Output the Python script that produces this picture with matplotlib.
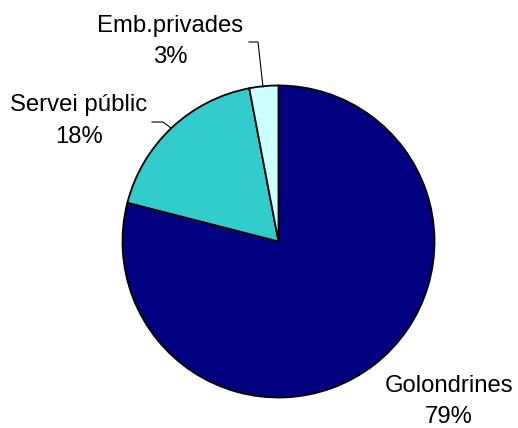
import matplotlib
matplotlib.use("Agg")
from matplotlib import pyplot as plt

labels = ["Golondrines", "Servei públic", "Emb.privades"]
shares = [79, 18, 3]
colors = ["#000080", "#33CCCC", "#CCFFFF"]

W, H = 518, 428
fig = plt.figure(figsize=(W / 100, H / 100), dpi=100)
ax = fig.add_axes([0, 0, 1, 1])

# pie in pixel coords (y axis goes down, so flip the direction)
wedges, _ = ax.pie(shares, colors=colors, startangle=-90, counterclock=True,
                   center=(278.5, 241.5), radius=156,
                   wedgeprops=dict(edgecolor="black", linewidth=1.3),
                   frame=True)
ax.set_xlim(0, W)
ax.set_ylim(H, 0)
ax.set_aspect("equal")
ax.axis("off")

fs = 17.2
font = "Liberation Sans"
# x centre, baseline of name, baseline of percentage
text_pos = [(449, 392, 423), (79, 111, 143), (170, 32, 63)]
for lab, v, (x, y1, y2) in zip(labels, shares, text_pos):
    ax.text(x, y1, lab, ha="center", va="baseline", fontsize=fs, family=font)
    ax.text(x, y2, "%d%%" % v, ha="center", va="baseline", fontsize=fs, family=font)

# leader lines
ax.plot([152, 163, 171], [122, 122, 128], color="black", lw=0.8)
ax.plot([249, 258, 263], [42, 42, 87], color="black", lw=0.8)

fig.savefig("out.png", dpi=100)
